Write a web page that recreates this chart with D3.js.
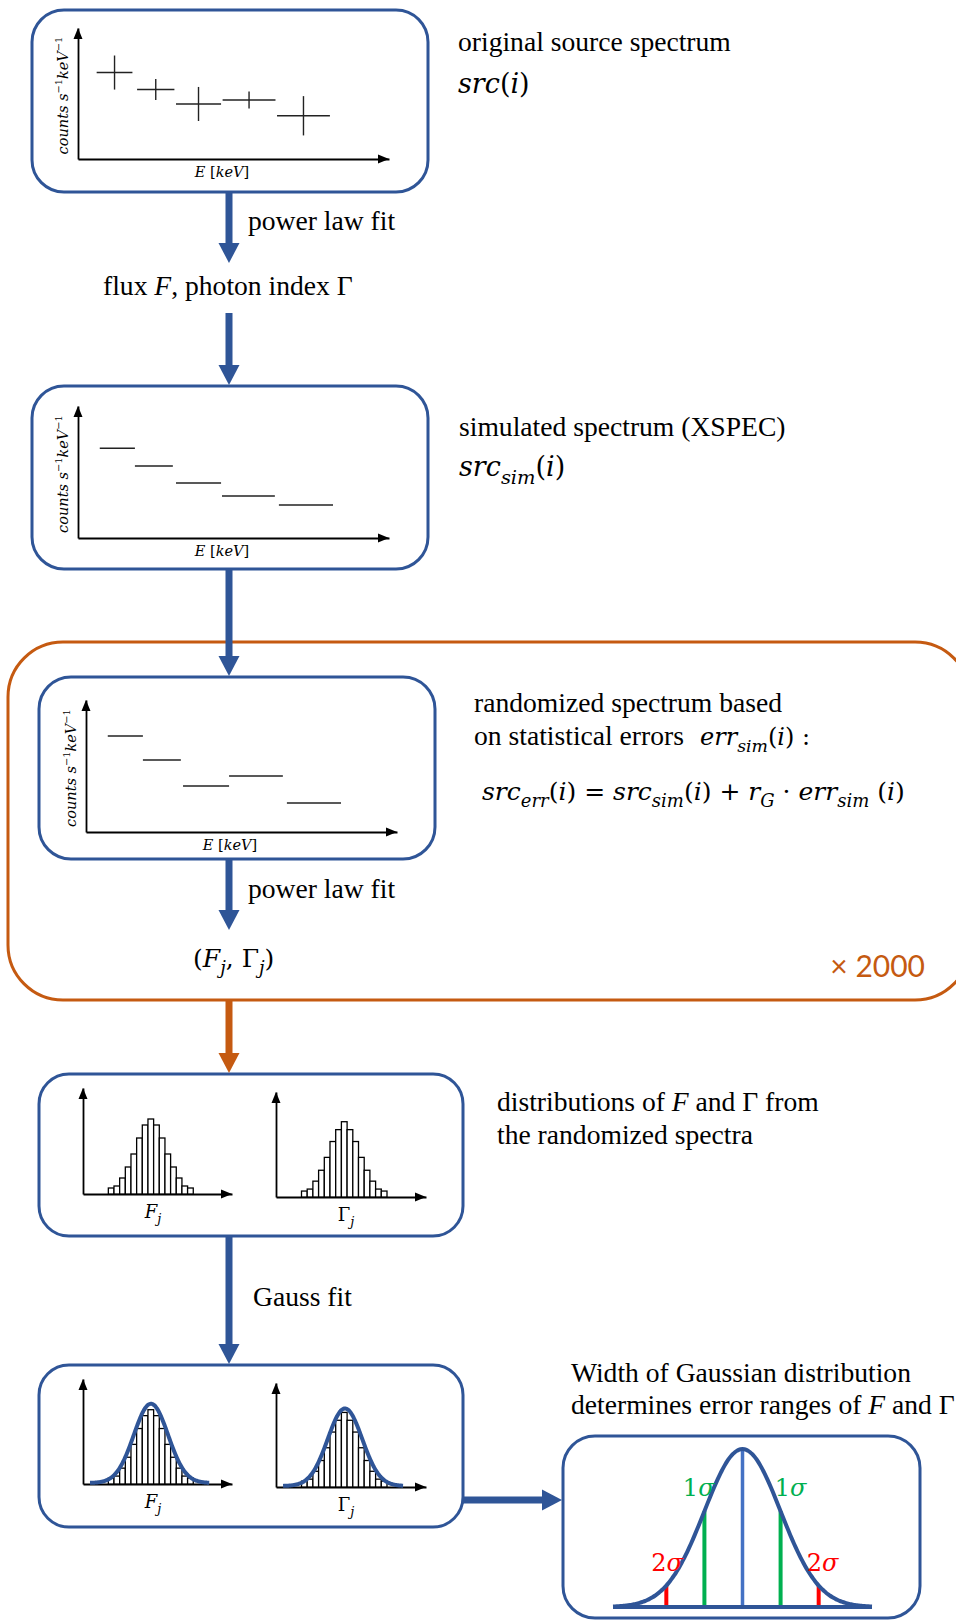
<!DOCTYPE html>
<html><head><meta charset="utf-8">
<script src="https://cdn.jsdelivr.net/npm/d3@7"></script>
<style>html,body{margin:0;padding:0;background:#fff;} svg{display:block;}</style>
</head><body>
<svg id="chart" width="956" height="1621"></svg>
<script>
// ---------- data ----------
// original spectrum: energy bins (arbitrary units 0-100), rate and 1-sigma error
const srcBinLo = [6, 19, 31.5, 46.5, 64];
const srcBinHi = [17.5, 31, 46, 63.5, 81];
const srcRate  = [66, 53, 42, 45, 33];
const srcErr   = [13, 8, 13, 6.5, 15];
// simulated spectrum from the power-law model
const simBinLo = [7, 18.3, 31.5, 46.3, 64.6];
const simBinHi = [18.3, 30.5, 46, 63.3, 82];
const simRate  = [68, 54.5, 41.7, 31.8, 25];
// one randomized realisation of the simulated spectrum
const rndBinLo = [7, 18.3, 31.2, 46, 64.6];
const rndBinHi = [18.3, 30.5, 46, 63.3, 82];
const rndRate  = [72.7, 54.5, 34.8, 42.4, 22];
// histograms of the fitted flux and photon index
const histF     = [6, 8, 16, 27, 40, 56, 69, 75, 69, 56, 40, 27, 16, 8, 6];
const histGamma = [6, 8, 16, 27, 40, 56, 68, 76, 68, 56, 40, 27, 16, 8, 6];
const histNames = ["F", "Γ"];
// Gaussian fits to the histograms: mean, width, amplitude
const fitMean  = [45.6, 46];
const fitSigma = [11.5, 11.5];
const fitAmp   = [80, 79];
// confidence markers on the error-range sketch
const sigmaLevels = [-2, -1, 0, 1, 2];
const sigmaLabels = ["2σ", "1σ", "", "1σ", "2σ"];

// ---------- style ----------
const BLUE = "#2F5597", ORANGE = "#C55A11", GREEN = "#00B050", RED = "#FF0000", MIDBLUE = "#4472C4";
const SERIF = "'Liberation Serif', 'Times New Roman', serif";
const MATH = "'DejaVu Serif', serif";
const svg = d3.select("#chart");

// text with roman / italic / sub / superscript runs
function rich(parent, x, y, parts, size, opts = {}) {
  const t = parent.append("text").attr("x", x).attr("y", y)
    .attr("font-size", size).attr("font-family", opts.family || SERIF)
    .attr("fill", opts.fill || "#000");
  if (opts.anchor) t.attr("text-anchor", opts.anchor);
  if (opts.transform) t.attr("transform", opts.transform);
  let shift = 0;
  parts.forEach(([txt, st]) => {
    const tok = (st || "").split(" ");
    const s = t.append("tspan").text(txt);
    let target = 0;
    if (tok.includes("sub")) { target = size * 0.28; s.attr("font-size", size * 0.72); }
    if (tok.includes("sup")) { target = -size * 0.4; s.attr("font-size", size * 0.68); }
    if (tok.includes("i") || tok.includes("mi")) s.attr("font-style", "italic");
    if (tok.includes("m") || tok.includes("mi")) s.attr("font-family", MATH);
    const dy = target - shift;
    if (dy) s.attr("dy", dy);
    shift = target;
  });
  return t;
}

function box(x, y, w, h, color, rx, sw) {
  svg.append("rect").attr("x", x).attr("y", y).attr("width", w).attr("height", h)
    .attr("rx", rx).attr("ry", rx).attr("fill", "none")
    .attr("stroke", color).attr("stroke-width", sw);
}

function vArrow(x, y1, y2, color) {
  svg.append("rect").attr("x", x - 3.5).attr("y", y1).attr("width", 7).attr("height", y2 - y1 - 18).attr("fill", color);
  svg.append("path").attr("d", `M${x - 10.5},${y2 - 20}L${x + 10.5},${y2 - 20}L${x},${y2}Z`).attr("fill", color);
}
function hArrow(x1, x2, y, color) {
  svg.append("rect").attr("x", x1).attr("y", y - 3.5).attr("width", x2 - x1 - 18).attr("height", 7).attr("fill", color);
  svg.append("path").attr("d", `M${x2 - 20},${y - 10.5}L${x2 - 20},${y + 10.5}L${x2},${y}Z`).attr("fill", color);
}

// small axes with arrow heads; returns the scales
function miniAxes(x0, y0, x1, y1, yMax) {
  const xs = d3.scaleLinear([0, 100], [x0, x1]);
  const ys = d3.scaleLinear([0, yMax || 100], [y0, y1]);
  const g = svg.append("g");
  g.append("g").attr("transform", `translate(0,${y0})`)
    .call(d3.axisBottom(xs).tickValues([]).tickSizeOuter(0));
  g.append("g").attr("transform", `translate(${x0},0)`)
    .call(d3.axisLeft(ys).tickValues([]).tickSizeOuter(0));
  g.selectAll(".domain").attr("stroke", "#000").attr("stroke-width", 1.8);
  g.append("path").attr("d", `M${x1},${y0}L${x1 - 11},${y0 - 4.5}L${x1 - 11},${y0 + 4.5}Z`).attr("fill", "#000");
  g.append("path").attr("d", `M${x0},${y1}L${x0 - 4.5},${y1 + 11}L${x0 + 4.5},${y1 + 11}Z`).attr("fill", "#000");
  return { xs, ys, g };
}

function spectrumLabels(ax) {
  const x0 = ax.xs.range()[0], y0 = ax.ys.range()[0], yTop = ax.ys.range()[1];
  rich(svg, x0 + 144, y0 + 18, [["E", "mi"], [" [", "m"], ["keV", "mi"], ["]", "m"]], 14.5, { anchor: "middle", family: MATH });
  const cx = x0 - 10, cy = (y0 + yTop) / 2 + 2;
  rich(svg, cx, cy, [["counts s", "mi"], ["−1", "m sup"], ["keV", "mi"], ["−1", "m sup"]], 14.5,
    { anchor: "middle", family: MATH, transform: `rotate(-90,${cx},${cy})` });
}

function steps(ax, lo, hi, val) {
  ax.g.selectAll(null).data(val).join("line")
    .attr("x1", (d, i) => ax.xs(lo[i])).attr("x2", (d, i) => ax.xs(hi[i]))
    .attr("y1", d => ax.ys(d)).attr("y2", d => ax.ys(d))
    .attr("stroke", "#222").attr("stroke-width", 1.4);
}

// ---------- frames ----------
box(8, 642, 962, 358, ORANGE, 55, 3);
box(32, 10, 396, 182, BLUE, 32, 3);
box(32, 386, 396, 183, BLUE, 32, 3);
box(39, 677, 396, 182, BLUE, 32, 3);
box(39, 1074, 424, 162, BLUE, 30, 3);
box(39, 1365, 424, 162, BLUE, 30, 3);
box(563, 1436, 357, 182, BLUE, 32, 3);

// ---------- arrows ----------
vArrow(229, 192, 263, BLUE);
vArrow(229, 313, 385, BLUE);
vArrow(229, 569, 676, BLUE);
vArrow(229, 859, 930, BLUE);
vArrow(229, 1000, 1073, ORANGE);
vArrow(229, 1236, 1364, BLUE);
hArrow(463, 562, 1500, BLUE);

// ---------- spectrum sketches ----------
const p1 = miniAxes(78, 159, 389, 28);
spectrumLabels(p1);
steps(p1, srcBinLo, srcBinHi, srcRate);
p1.g.selectAll(null).data(srcRate).join("line")
  .attr("x1", (d, i) => p1.xs((srcBinLo[i] + srcBinHi[i]) / 2))
  .attr("x2", (d, i) => p1.xs((srcBinLo[i] + srcBinHi[i]) / 2))
  .attr("y1", (d, i) => p1.ys(d + srcErr[i])).attr("y2", (d, i) => p1.ys(d - srcErr[i]))
  .attr("stroke", "#222").attr("stroke-width", 1.4);

const p2 = miniAxes(78, 538, 389, 406);
spectrumLabels(p2);
steps(p2, simBinLo, simBinHi, simRate);

const p3 = miniAxes(86, 832, 397, 700);
spectrumLabels(p3);
steps(p3, rndBinLo, rndBinHi, rndRate);

// ---------- histograms ----------
const histSets = [histF, histGamma];
const histAxes = [
  [83, 1194, 232, 1088], [276, 1197, 426, 1092],
  [83, 1484, 232, 1379], [276, 1487, 426, 1383]
];
histAxes.forEach((a, k) => {
  const which = k % 2;
  const counts = histSets[which];
  const ax = miniAxes(a[0], a[1], a[2], a[3], 106);
  const xb = d3.scaleBand(d3.range(counts.length), [ax.xs(17), ax.xs(74)]);
  ax.g.selectAll(null).data(counts).join("rect")
    .attr("x", (d, i) => xb(i)).attr("width", xb.bandwidth())
    .attr("y", d => ax.ys(d)).attr("height", d => ax.ys(0) - ax.ys(d))
    .attr("fill", "#fff").attr("stroke", "#000").attr("stroke-width", 1.3);
  if (k >= 2) {
    const mu = fitMean[which], sg = fitSigma[which], A = fitAmp[which];
    const xsamp = d3.range(4.7, 84.9, 0.4);
    const line = d3.line().x(d => ax.xs(d)).y(d => ax.ys(A * Math.exp(-0.5 * ((d - mu) / sg) ** 2)) - 1)
      .curve(d3.curveBasis);
    ax.g.append("path").datum(xsamp).attr("d", line)
      .attr("fill", "none").attr("stroke", BLUE).attr("stroke-width", 4);
  }
  const lx = ax.xs(0) + 70, ly = ax.ys(0) + 24;
  rich(svg, lx, ly, [[histNames[which], which === 0 ? "mi" : "m"], ["j", "mi sub"]], 18, { anchor: "middle", family: MATH });
});

// ---------- error-range sketch ----------
const gx = d3.scaleLinear([-3.4, 3.4], [613, 872]);
const gy = d3.scaleLinear([0, 1], [1607, 1449]);
const gauss = d => Math.exp(-0.5 * d * d);
const gCol = l => l === 0 ? MIDBLUE : (Math.abs(l) === 1 ? GREEN : RED);
svg.append("g").selectAll("line").data(sigmaLevels).join("line")
  .attr("x1", d => gx(d)).attr("x2", d => gx(d))
  .attr("y1", gy(0)).attr("y2", d => gy(gauss(d)))
  .attr("stroke", gCol).attr("stroke-width", d => d === 0 ? 3.5 : 4);
svg.append("line").attr("x1", gx(-3.4)).attr("x2", gx(3.4)).attr("y1", gy(0)).attr("y2", gy(0))
  .attr("stroke", BLUE).attr("stroke-width", 4);
svg.append("path").datum(d3.range(-3.4, 3.41, 0.05))
  .attr("d", d3.line().x(d => gx(d)).y(d => gy(gauss(d))).curve(d3.curveBasis))
  .attr("fill", "none").attr("stroke", BLUE).attr("stroke-width", 4);
const labelPos = { "-2": [-1.98, 1571], "-1": [-1.15, 1496], "1": [1.26, 1496], "2": [2.1, 1571] };
sigmaLevels.forEach((l, i) => {
  if (!sigmaLabels[i]) return;
  const p = labelPos[String(l)];
  rich(svg, gx(p[0]), p[1], [[sigmaLabels[i][0], "m"], ["σ", "mi"]], 24,
    { anchor: "middle", family: MATH, fill: gCol(l) });
});

// ---------- captions ----------
const F = 27.6;
rich(svg, 458, 51, [["original source spectrum", "r"]], F);
rich(svg, 458, 93, [["src", "mi"], ["(", "m"], ["i", "mi"], [")", "m"]], 27, { family: MATH });
rich(svg, 248, 230, [["power law fit", "r"]], F);
rich(svg, 103, 295, [["flux ", "r"], ["F", "i"], [", photon index Γ", "r"]], F);
rich(svg, 459, 436, [["simulated spectrum (XSPEC)", "r"]], F);
rich(svg, 459, 476, [["src", "mi"], ["sim", "mi sub"], ["(", "m"], ["i", "mi"], [")", "m"]], 27, { family: MATH });
rich(svg, 474, 712, [["randomized spectrum based", "r"]], F);
rich(svg, 474, 745, [["on statistical errors", "r"]], F);
rich(svg, 700, 745, [["err", "mi"], ["sim", "mi sub"], ["(", "m"], ["i", "mi"], [")", "m"], [" :", "m"]], 24, { family: MATH });
rich(svg, 482, 800, [
  ["src", "mi"], ["err", "mi sub"], ["(", "m"], ["i", "mi"], [")", "m"], [" = ", "m"],
  ["src", "mi"], ["sim", "mi sub"], ["(", "m"], ["i", "mi"], [")", "m"], [" + ", "m"],
  ["r", "mi"], ["G", "mi sub"], [" · ", "m"],
  ["err", "mi"], ["sim", "mi sub"], [" (", "m"], ["i", "mi"], [")", "m"]
], 25, { family: MATH });
rich(svg, 248, 898, [["power law fit", "r"]], F);
rich(svg, 193, 967, [["(", "m"], ["F", "mi"], ["j", "mi sub"], [", ", "m"], ["Γ", "m"], ["j", "mi sub"], [")", "m"]], 25, { family: MATH });
rich(svg, 925, 977, [["× 2000", "r"]], 30, { family: "Lato, 'Open Sans', sans-serif", fill: ORANGE, anchor: "end" });
rich(svg, 497, 1111, [["distributions of ", "r"], ["F", "i"], [" and Γ from", "r"]], F);
rich(svg, 497, 1144, [["the randomized spectra", "r"]], F);
rich(svg, 253, 1306, [["Gauss fit", "r"]], F);
rich(svg, 571, 1382, [["Width of Gaussian distribution", "r"]], F);
rich(svg, 571, 1414, [["determines error ranges of ", "r"], ["F", "i"], [" and Γ", "r"]], F);
</script>
</body></html>
